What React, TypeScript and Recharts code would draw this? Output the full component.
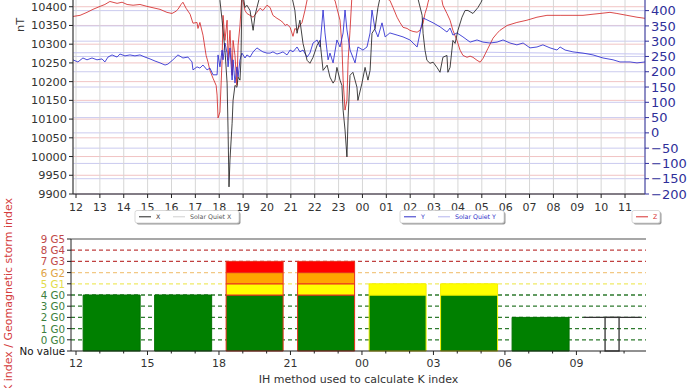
import React from 'react';
import { ComposedChart, Line, Bar, XAxis, YAxis, CartesianGrid, Legend, Cell, Label } from 'recharts';

const FONT = "'DejaVu Sans', 'Liberation Sans', sans-serif";

// ---------- tick labels / axes values ----------
const topHourTicks = [12, 13, 14, 15, 16, 17, 18, 19, 20, 21, 22, 23, 24, 25, 26, 27, 28, 29, 30, 31, 32, 33, 34, 35];
const kHourTicks = [12, 13, 14, 15, 16, 17, 18, 19, 20, 21, 22, 23, 24, 25, 26, 27, 28, 29, 30, 31, 32, 33, 34, 35];
const kLabelHours = [12, 15, 18, 21, 24, 27, 30, 33];
const leftTicks = [9900, 9950, 10000, 10050, 10100, 10150, 10200, 10250, 10300, 10350, 10400];
const rightTicks = [-200, -150, -100, -50, 0, 50, 100, 150, 200, 250, 300, 350, 400];
const leftMinorTicks = Array.from({ length: 55 }, (_, i) => 9900 + i * 10);
const rightMinorTicks = Array.from({ length: 67 }, (_, i) => -200 + i * 10);
const levelTicks = [0, 1, 2, 3, 4, 5, 6, 7, 8, 9, 10];
const levelLabels = ['No value', '0 G0', '1 G0', '2 G0', '3 G0', '4 G0', '5 G1', '6 G2', '7 G3', '8 G4', '9 G5'];
const legendNames = ['X', 'Solar Quiet X', 'Y', 'Solar Quiet Y', 'Z'];

// ---------- magnetometer series [hour, value] ----------
const xComponent: [number, number][] = [
  [17.7, 10445], [18.03, 10417], [18.12, 10364], [18.24, 10284], [18.33, 10196], [18.37, 10071], [18.41, 9919],
  [18.45, 9991], [18.54, 10089], [18.58, 10150], [18.66, 10190], [18.74, 10185], [18.79, 10212], [18.87, 10204],
  [18.91, 10257], [18.95, 10417], [19.0, 10430], [19.08, 10398], [19.16, 10404], [19.29, 10390], [19.42, 10337],
  [19.5, 10377], [19.58, 10398], [19.71, 10430], [20.4, 10445], [21.05, 10425], [21.17, 10390], [21.26, 10329],
  [21.38, 10364], [21.51, 10302], [21.68, 10257], [21.8, 10249], [21.93, 10265], [22.1, 10297], [22.22, 10310],
  [22.35, 10230], [22.52, 10244], [22.64, 10212], [22.77, 10196], [22.85, 10204], [22.93, 10238], [23.06, 10204],
  [23.14, 10190], [23.19, 10124], [23.27, 10071], [23.35, 9999], [23.4, 10105], [23.48, 10217], [23.6, 10225],
  [23.77, 10185], [23.81, 10150], [23.98, 10196], [24.11, 10238], [24.23, 10204], [24.32, 10230], [24.4, 10329],
  [24.53, 10342], [24.65, 10398], [24.74, 10425], [25.0, 10420], [25.5, 10435], [26.3, 10428], [26.5, 10377],
  [26.54, 10329], [26.62, 10284], [26.7, 10257], [26.83, 10249], [26.96, 10252], [27.12, 10238], [27.25, 10225],
  [27.37, 10265], [27.54, 10270], [27.58, 10225], [27.67, 10238], [27.79, 10310], [27.88, 10302], [28.0, 10337],
  [28.17, 10372], [28.3, 10390], [28.42, 10390], [28.63, 10382], [28.84, 10398], [28.97, 10412], [29.09, 10430],
  [30.0, 10450],
];

const yComponent: [number, number][] = [
  [11.87, 239], [12.08, 232], [12.29, 245], [12.46, 239], [12.67, 245], [12.88, 239], [13.09, 242], [13.21, 232],
  [13.34, 248], [13.51, 255], [13.72, 248], [13.84, 258], [14.05, 252], [14.26, 255], [14.47, 252], [14.68, 255],
  [14.89, 248], [15.1, 242], [15.31, 235], [15.52, 229], [15.73, 222], [15.85, 225], [16.06, 239], [16.27, 255],
  [16.48, 245], [16.69, 248], [16.86, 232], [16.9, 206], [17.07, 216], [17.19, 212], [17.32, 222], [17.49, 206],
  [17.61, 212], [17.74, 190], [17.91, 190], [17.95, 255], [18.03, 216], [18.12, 271], [18.16, 239], [18.24, 294],
  [18.33, 261], [18.37, 216], [18.45, 278], [18.54, 173], [18.58, 239], [18.66, 163], [18.74, 216], [18.79, 183],
  [18.87, 239], [18.95, 261], [19.08, 245], [19.16, 255], [19.29, 248], [19.42, 265], [19.58, 278], [19.71, 271],
  [19.83, 265], [20.0, 261], [20.13, 261], [20.25, 265], [20.42, 258], [20.55, 261], [20.67, 265], [20.84, 255],
  [20.97, 271], [21.09, 265], [21.26, 281], [21.38, 265], [21.51, 271], [21.68, 248], [21.8, 261], [21.93, 294],
  [22.1, 304], [22.22, 281], [22.35, 402], [22.43, 327], [22.56, 239], [22.64, 261], [22.77, 229], [22.93, 304],
  [23.06, 281], [23.19, 327], [23.27, 402], [23.35, 337], [23.48, 271], [23.69, 229], [23.81, 281], [24.02, 271],
  [24.19, 281], [24.32, 327], [24.4, 402], [24.53, 337], [24.65, 314], [24.82, 360], [24.95, 314], [25.15, 327],
  [25.45, 320], [25.7, 314], [25.99, 304], [26.12, 294], [26.29, 281], [26.41, 327], [26.54, 376], [26.7, 370],
  [26.96, 360], [27.25, 347], [27.54, 330], [27.67, 343], [27.79, 320], [27.96, 327], [28.21, 314], [28.51, 297],
  [28.8, 304], [29.05, 297], [29.34, 294], [29.64, 297], [29.89, 304], [30.18, 294], [30.47, 288], [30.73, 294],
  [31.02, 278], [31.31, 281], [31.56, 288], [31.86, 278], [32.15, 271], [32.28, 281], [32.49, 271], [32.82, 265],
  [33.24, 261], [33.66, 255], [34.08, 245], [34.5, 239], [34.79, 232], [35.21, 232], [35.5, 229], [35.84, 232],
];

const zComponent: [number, number][] = [
  [11.87, 10374], [12.17, 10377], [12.46, 10385], [12.71, 10393], [13.01, 10401], [13.21, 10406], [13.42, 10414],
  [13.72, 10409], [13.93, 10412], [14.14, 10406], [14.39, 10404], [14.68, 10406], [14.97, 10401], [15.31, 10396],
  [15.52, 10393], [15.81, 10385], [16.02, 10382], [16.19, 10388], [16.27, 10393], [16.4, 10406], [16.48, 10412],
  [16.61, 10396], [16.78, 10380], [16.9, 10356], [17.07, 10358], [17.11, 10342], [17.19, 10358], [17.32, 10324],
  [17.45, 10270], [17.53, 10252], [17.61, 10230], [17.74, 10209], [17.87, 10190], [17.91, 10164], [17.95, 10103],
  [18.03, 10119], [18.12, 10257], [18.16, 10377], [18.24, 10310], [18.33, 10364], [18.37, 10257], [18.45, 10337],
  [18.54, 10217], [18.58, 10310], [18.66, 10270], [18.74, 10190], [18.79, 10297], [18.87, 10350], [18.95, 10430],
  [19.08, 10390], [19.16, 10382], [19.29, 10377], [19.42, 10372], [19.58, 10385], [19.71, 10396], [19.83, 10390],
  [20.0, 10404], [20.13, 10398], [20.25, 10377], [20.42, 10369], [20.55, 10364], [20.67, 10358], [20.76, 10350],
  [20.84, 10353], [20.97, 10345], [21.09, 10321], [21.17, 10342], [21.26, 10337], [21.38, 10350], [21.47, 10358],
  [21.59, 10390], [21.72, 10430], [22.3, 10440], [22.85, 10417], [22.93, 10396], [23.06, 10364], [23.14, 10297],
  [23.19, 10204], [23.27, 10124], [23.35, 10150], [23.4, 10257], [23.48, 10337], [23.56, 10430], [24.4, 10440],
  [25.15, 10417], [25.28, 10398], [25.45, 10372], [25.57, 10358], [25.7, 10345], [25.87, 10342], [25.99, 10337],
  [26.12, 10334], [26.29, 10332], [26.41, 10337], [26.54, 10356], [26.62, 10382], [26.7, 10398], [26.75, 10412],
  [26.83, 10430], [27.1, 10435], [27.33, 10417], [27.37, 10404], [27.54, 10382], [27.67, 10364], [27.79, 10337],
  [27.96, 10310], [28.09, 10284], [28.21, 10270], [28.38, 10265], [28.51, 10268], [28.63, 10265], [28.8, 10257],
  [28.93, 10252], [29.05, 10262], [29.26, 10289], [29.47, 10316], [29.64, 10329], [29.76, 10337], [30.06, 10350],
  [30.47, 10358], [30.89, 10364], [31.31, 10372], [31.73, 10377], [32.28, 10377], [32.82, 10377], [33.24, 10377],
  [33.66, 10380], [33.95, 10382], [34.37, 10385], [34.66, 10382], [35.08, 10377], [35.5, 10372], [35.84, 10369],
];

const solarQuietY: [number, number][] = [
  [11.87, 262], [15, 263], [18, 266], [21, 268], [24, 268], [27, 266], [30, 263], [33, 260], [35.84, 258],
];

// ---------- K index ----------
const kBarHours = [13.5, 16.5, 19.5, 22.5, 25.5, 28.5, 31.5];
const kValues = [4, 4, 7, 7, 5, 5, 2];
const pendingHour = 34.5;
const pendingK = 2;

const toRows = (pairs: [number, number][]) => pairs.map(([t, v]) => ({ t, v }));
const xRows = toRows(xComponent);
const yRows = toRows(yComponent);
const zRows = toRows(zComponent);
const sqyRows = toRows(solarQuietY);

const kRows: any[] = [
  ...kBarHours.map((t, i) => {
    const k = kValues[i];
    return {
      t, k,
      green: Math.min(k, 4) + 1,
      yellow: k >= 5 ? 1 : null,
      orange: k >= 6 ? 1 : null,
      red: k >= 7 ? 1 : null,
      pending: null,
    };
  }),
  { t: pendingHour, k: pendingK, green: null, yellow: null, orange: null, red: null, pending: pendingK + 1 },
];

const C_GREEN = '#008000';
const C_YELLOW = '#ffff00';
const C_ORANGE = '#ffa500';
const C_RED = '#ff0000';

const edgeColor = (k: number) => (k >= 7 ? '#e8301c' : k === 6 ? '#ff9900' : k === 5 ? '#f4f000' : '#007000');

const labelColors = ['#111', '#3d7f3d', '#3d7f3d', '#3d7f3d', '#3d7f3d', '#3d7f3d', '#e2dc4a', '#e0a448', '#c04848', '#c04848', '#c04848'];
const levelLineStyles: ({ c: string; d?: string } | null)[] = [
  null,
  { c: '#2e7a2e', d: '4 3' }, { c: '#2e7a2e', d: '4 3' }, { c: '#2e7a2e', d: '4 3' }, { c: '#2e7a2e', d: '4 3' }, { c: '#2e7a2e', d: '4 3' },
  { c: '#f0ea66', d: '4 3' }, { c: '#f2c884', d: '4 3' }, { c: '#c04040', d: '4 3' }, { c: '#c04040', d: '4 3' },
  { c: '#8a8a8a' },
];

const fmtHour = (h: number) => String(((h % 24) + 24) % 24).padStart(2, '0');
const fmtRight = (v: number) => String(v).replace('-', '\u2212');

const renderLevelLine = (p: any) => {
  const n = levelTicks.length - 1;
  const lvl = typeof p.height === 'number' && p.height > 0 ? Math.round(((p.y + p.height - p.y1) / p.height) * n) : p.index;
  const st = levelLineStyles[lvl];
  if (!st) return <g key={p.key} />;
  return (
    <line key={p.key} x1={p.x1} x2={p.x2} y1={p.y1} y2={p.y2} stroke={st.c} strokeWidth={1.3} strokeDasharray={st.d} fill="none" />
  );
};

const LevelTick = (p: any) => {
  const { x, y, payload } = p;
  const lvl = payload.value;
  return (
    <text x={x} y={y} textAnchor="end" dominantBaseline="central" fill={labelColors[lvl]} fontSize={10.3} fontFamily={FONT}>
      {levelLabels[lvl]}
    </text>
  );
};

const KHourTick = (p: any) => {
  const { x, y, payload } = p;
  const major = kLabelHours.includes(payload.value);
  return (
    <g>
      <line x1={x} x2={x} y1={y - 6} y2={y - 6 + (major ? 4 : 2.5)} stroke="#222" strokeWidth={1} />
      {major && (
        <text x={x} y={y + 6} textAnchor="middle" dominantBaseline="central" fill="#333" fontSize={11} fontFamily={FONT}>
          {fmtHour(payload.value)}
        </text>
      )}
    </g>
  );
};

const PendingShape = (p: any) => {
  const { x, y, width, height, payload } = p;
  if (!payload || payload.pending == null || !(height > 0)) return <g />;
  const cx = x + width / 2;
  return (
    <g>
      <line x1={x} x2={x + width} y1={y} y2={y} stroke="#333" strokeWidth={1.3} />
      <rect x={cx - 7} y={y} width={14} height={height} fill="none" stroke="#333" strokeWidth={1.3} />
    </g>
  );
};

const LegendBoxes = () => {
  const boxes = [
    { x: 135, w: 104, items: [{ c: '#222', t: legendNames[0], tc: '#333' }, { c: '#cfcfcf', t: legendNames[1], tc: '#555' }] },
    { x: 400, w: 104, items: [{ c: '#3030c8', t: legendNames[2], tc: '#3030c8' }, { c: '#b4b4ee', t: legendNames[3], tc: '#3030c8' }] },
    { x: 632, w: 28, items: [{ c: '#d83030', t: legendNames[4], tc: '#d83030' }] },
  ];
  return (
    <svg width={690} height={26} style={{ display: 'block' }}>
      {boxes.map((b, bi) => (
        <g key={bi}>
          <rect x={b.x + 1.5} y={7} width={b.w} height={12.5} rx={2} fill="#9a9a9a" />
          <rect x={b.x} y={5.5} width={b.w} height={12.5} rx={2} fill="#fff" stroke="#cfcfcf" strokeWidth={0.8} />
          {b.items.map((it, ii) => {
            const x0 = b.x + 4 + ii * 34;
            return (
              <g key={ii}>
                <line x1={x0} x2={x0 + 12} y1={11.8} y2={11.8} stroke={it.c} strokeWidth={1} />
                <text x={x0 + 17} y={14} fontSize={6.3} fill={it.tc} fontFamily={FONT}>{it.t}</text>
              </g>
            );
          })}
        </g>
      ))}
    </svg>
  );
};

export default function App() {
  return (
    <div style={{ position: 'absolute', left: 0, top: 0, width: 690, height: 388, overflow: 'hidden', background: '#fff' }}>
      {/* Magnetometer chart */}
      <div style={{ position: 'absolute', left: 0, top: -12, width: 690, height: 240 }}>
        <ComposedChart width={690} height={240} margin={{ top: 0, right: 0, bottom: 0, left: 0 }}>
          <CartesianGrid yAxisId="left" vertical={false} stroke="#f1c4c4" strokeWidth={1} />
          <CartesianGrid yAxisId="right" vertical={false} stroke="#cbcbef" strokeWidth={1} />
          <CartesianGrid yAxisId="left" horizontal={false} stroke="#d6d6d6" strokeWidth={1} />
          <XAxis
            type="number" dataKey="t" domain={[11.874, 35.837]} ticks={topHourTicks} tickFormatter={fmtHour}
            allowDataOverflow interval={0} height={34} tickSize={4} tickMargin={5}
            tick={{ fill: '#333', fontSize: 11, fontFamily: FONT }}
            axisLine={{ stroke: '#222' }} tickLine={{ stroke: '#222' }}
          />
          <YAxis
            yAxisId="leftMinor" domain={[9900, 10450]} ticks={leftMinorTicks} allowDataOverflow interval={0} width={0}
            tickSize={2} tick={false} axisLine={false} tickLine={{ stroke: '#222' }}
          />
          <YAxis
            yAxisId="rightMinor" orientation="right" domain={[-200, 474]} ticks={rightMinorTicks} allowDataOverflow interval={0} width={0}
            tickSize={2} tick={false} axisLine={false} tickLine={{ stroke: '#3030a0' }}
          />
          <YAxis
            yAxisId="left" domain={[9900, 10450]} ticks={leftTicks} allowDataOverflow interval={0} width={73} tickSize={4}
            tick={{ fill: '#333', fontSize: 11.3, fontFamily: FONT }}
            axisLine={{ stroke: '#222' }} tickLine={{ stroke: '#222' }}
          >
            <Label
              content={(p: any) => {
                const vb = p.viewBox || { x: 0, y: 0 };
                const cx = vb.x + 20;
                const cy = vb.y + 37;
                return (
                  <text x={cx} y={cy} transform={`rotate(-90 ${cx} ${cy})`} textAnchor="middle" dominantBaseline="central" fontSize={11.3} fill="#333" fontFamily={FONT}>
                    nT
                  </text>
                );
              }}
            />
          </YAxis>
          <YAxis
            yAxisId="right" orientation="right" domain={[-200, 474]} ticks={rightTicks} allowDataOverflow interval={0} width={45} tickSize={4}
            tickFormatter={fmtRight}
            tick={{ fill: '#2f2f9a', fontSize: 13, fontFamily: FONT }}
            axisLine={{ stroke: '#3030a0' }} tickLine={{ stroke: '#3030a0' }}
          />
          <Line yAxisId="right" data={sqyRows} dataKey="v" stroke="#c4c4f2" strokeWidth={1} dot={false} isAnimationActive={false} />
          <Line yAxisId="left" data={zRows} dataKey="v" stroke="#d42a2a" strokeOpacity={0.85} strokeWidth={1} dot={false} isAnimationActive={false} />
          <Line yAxisId="right" data={yRows} dataKey="v" stroke="#2a2ad0" strokeOpacity={0.85} strokeWidth={1} dot={false} isAnimationActive={false} />
          <Line yAxisId="left" data={xRows} dataKey="v" stroke="#222" strokeOpacity={0.85} strokeWidth={1} dot={false} isAnimationActive={false} />
          <Legend
            layout="horizontal" verticalAlign="middle" align="center"
            content={() => <LegendBoxes />}
            wrapperStyle={{ position: 'absolute', left: 0, top: 217, width: 690, height: 26, margin: 0 }}
          />
        </ComposedChart>
      </div>

      {/* K index chart */}
      <div style={{ position: 'absolute', left: 0, top: 190, width: 690, height: 198 }}>
        <ComposedChart width={690} height={198} data={kRows} margin={{ top: 49, right: 44, bottom: 0, left: 0 }} barCategoryGap="10%">
          <CartesianGrid vertical={false} horizontal={renderLevelLine} />
          <XAxis
            type="number" dataKey="t" domain={[11.79, 35.92]} ticks={kHourTicks} allowDataOverflow interval={0}
            height={37} tickSize={4} tickLine={false} tick={<KHourTick />} axisLine={{ stroke: '#222' }}
          >
            <Label
              content={(p: any) => {
                const vb = p.viewBox || { x: 71, y: 161, width: 575 };
                return (
                  <text x={vb.x + vb.width / 2} y={vb.y + 28} textAnchor="middle" dominantBaseline="central" fontSize={11} fill="#333" fontFamily={FONT}>
                    IH method used to calculate K index
                  </text>
                );
              }}
            />
          </XAxis>
          <YAxis
            domain={[0, 10]} ticks={levelTicks} interval={0} width={71} tickSize={4} tick={<LevelTick />}
            axisLine={{ stroke: '#222' }} tickLine={{ stroke: '#222' }}
          >
            <Label
              content={(p: any) => {
                const vb = p.viewBox || { x: 0, y: 49, height: 112 };
                const cx = vb.x + 8;
                const cy = vb.y + vb.height / 2;
                return (
                  <text x={cx} y={cy} transform={`rotate(-90 ${cx} ${cy})`} textAnchor="middle" dominantBaseline="central" fontSize={11} fill="#d43c3c" fontFamily={FONT}>
                    K index / Geomagnetic storm index
                  </text>
                );
              }}
            />
          </YAxis>
          <YAxis yAxisId="border" orientation="right" domain={[0, 10]} width={0} tick={false} tickLine={false} axisLine={{ stroke: '#e39a9a' }} />
          <Bar dataKey="green" stackId="k" fill={C_GREEN} isAnimationActive={false}>
            {kRows.map((r, i) => <Cell key={i} stroke={edgeColor(r.k)} strokeWidth={1} />)}
          </Bar>
          <Bar dataKey="yellow" stackId="k" fill={C_YELLOW} isAnimationActive={false}>
            {kRows.map((r, i) => <Cell key={i} stroke={edgeColor(r.k)} strokeWidth={1} />)}
          </Bar>
          <Bar dataKey="orange" stackId="k" fill={C_ORANGE} isAnimationActive={false}>
            {kRows.map((r, i) => <Cell key={i} stroke={edgeColor(r.k)} strokeWidth={1} />)}
          </Bar>
          <Bar dataKey="red" stackId="k" fill={C_RED} isAnimationActive={false}>
            {kRows.map((r, i) => <Cell key={i} stroke={edgeColor(r.k)} strokeWidth={1} />)}
          </Bar>
          <Bar dataKey="pending" stackId="k" fill="none" shape={<PendingShape />} isAnimationActive={false} />
        </ComposedChart>
      </div>
    </div>
  );
}
